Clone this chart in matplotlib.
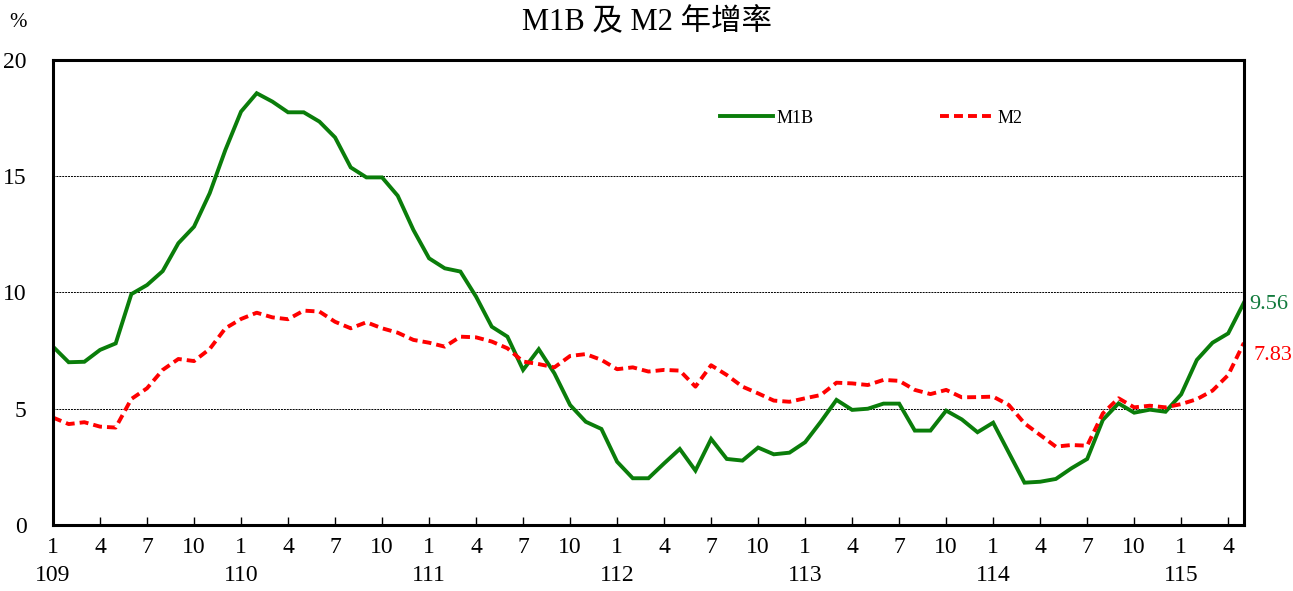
import matplotlib
matplotlib.use("Agg")
import matplotlib.pyplot as plt

# monthly year-over-year growth, 109/1 .. 115/5
m1b = [7.67, 7.00, 7.02, 7.53, 7.81, 9.93, 10.32, 10.92, 12.12, 12.83, 14.27, 16.13,
       17.78, 18.57, 18.21, 17.75, 17.75, 17.35, 16.67, 15.38, 14.95, 14.95, 14.16, 12.69,
       11.47, 11.04, 10.90, 9.82, 8.53, 8.10, 6.67, 7.56, 6.52, 5.16, 4.44, 4.13,
       2.72, 2.01, 2.01, 2.65, 3.27, 2.34, 3.70, 2.84, 2.77, 3.33, 3.04, 3.11,
       3.56, 4.44, 5.38, 4.95, 5.00, 5.22, 5.22, 4.06, 4.06, 4.92, 4.54, 3.99,
       4.40, 3.11, 1.82, 1.86, 1.98, 2.44, 2.84, 4.52, 5.23, 4.83, 4.96, 4.87,
       5.62, 7.10, 7.84, 8.24, 9.56]
m2 = [4.62, 4.34, 4.42, 4.23, 4.19, 5.42, 5.88, 6.67, 7.14, 7.05, 7.57, 8.46,
      8.86, 9.13, 8.93, 8.85, 9.22, 9.18, 8.74, 8.46, 8.72, 8.46, 8.27, 7.96,
      7.84, 7.67, 8.10, 8.07, 7.89, 7.60, 7.03, 6.92, 6.78, 7.27, 7.35, 7.10,
      6.70, 6.78, 6.60, 6.67, 6.64, 5.95, 6.87, 6.45, 5.95, 5.66, 5.35, 5.30,
      5.45, 5.59, 6.12, 6.09, 6.02, 6.24, 6.20, 5.81, 5.63, 5.81, 5.49, 5.50,
      5.52, 5.16, 4.37, 3.87, 3.37, 3.44, 3.41, 4.80, 5.45, 5.06, 5.13, 5.06,
      5.20, 5.41, 5.78, 6.45, 7.83]
years = [109, 110, 111, 112, 113, 114, 115]
months = [1, 4, 7, 10]

x = list(range(len(m1b)))

# tick labels every 3 months, year under month 1
tick_pos = []
tick_lab = []
for i in x:
    mon = i % 12 + 1
    if mon in months:
        tick_pos.append(i)
        if mon == 1:
            tick_lab.append(f"{mon}\n{years[i // 12]}")
        else:
            tick_lab.append(f"{mon}\n")

serif = ['Liberation Serif', 'Noto Sans CJK TC']
plt.rcParams['font.family'] = serif

fig = plt.figure(figsize=(12.93, 5.91), dpi=100)
ax = fig.add_axes([0.041, 0.1117, 0.921, 0.7868])

green = '#0a7d0a'
red = '#ff0000'
ax.plot(x, m1b, color=green, lw=2.8, label='M1B', solid_joinstyle='miter')
ax.plot(x, m2, color=red, lw=2.8, ls=(0, (2.3, 1.3)), label='M2')

ax.set_xlim(0, len(m1b) - 1)
ax.set_ylim(0, 20)
ax.set_yticks([0, 5, 10, 15, 20])
ax.yaxis.grid(True, color='black', ls=(0, (2, 1)), lw=0.7)
ax.tick_params(axis='y', length=0, labelsize=17, pad=19)
ax.set_xticks(tick_pos)
ax.set_xticklabels(tick_lab, fontsize=17, linespacing=1.4)
ax.tick_params(axis='x', direction='in', length=6, width=1, pad=9)
for s in ax.spines.values():
    s.set_linewidth(2.2)

ax.annotate('9.56', xy=(x[-1], m1b[-1]), xytext=(4, -1), textcoords='offset points',
            color='#117a3c', fontsize=16, va='center', ha='left', annotation_clip=False)
ax.annotate('7.83', xy=(x[-1], m2[-1]), xytext=(7, -9), textcoords='offset points',
            color=red, fontsize=16, va='center', ha='left', annotation_clip=False)

leg = ax.legend(loc='center left', bbox_to_anchor=(0.56, 0.875), ncol=2, frameon=False,
                borderpad=0, borderaxespad=0,
                handlelength=2.95, handletextpad=0.2, columnspacing=7.0,
                prop={'family': serif, 'size': 13})

fig.text(0.5, 0.962, 'M1B 及 M2 年增率', ha='center', va='center', fontsize=22,
         family=serif)
fig.text(0.014, 0.962, '%', ha='center', va='center', fontsize=15)

fig.savefig('out.png', dpi=100)
